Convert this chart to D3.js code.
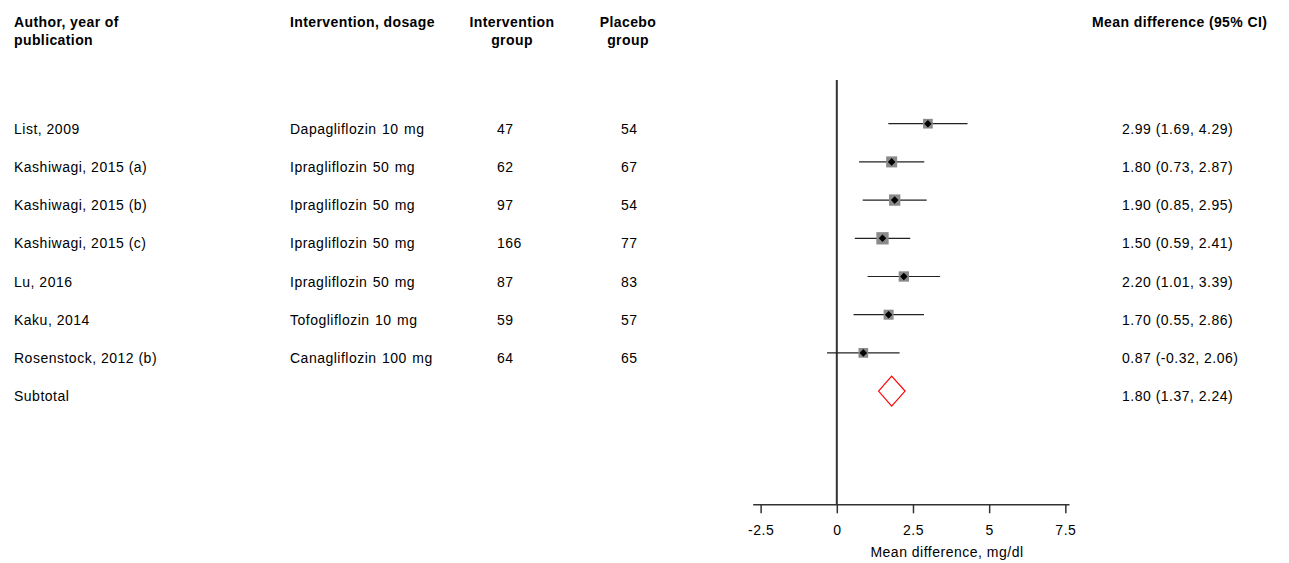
<!DOCTYPE html>
<html>
<head>
<meta charset="utf-8">
<script src="https://cdn.jsdelivr.net/npm/d3@7"></script>
<style>
  body { margin: 0; background: #fff; }
  text { font-family: "Liberation Sans", Arial, sans-serif; font-size: 14px; letter-spacing: 0.5px; fill: #000; }
  .head { font-weight: bold; letter-spacing: 0.4px; }
</style>
</head>
<body>
<div class="chart"></div>
<script>
const studies = ["List, 2009", "Kashiwagi, 2015 (a)", "Kashiwagi, 2015 (b)", "Kashiwagi, 2015 (c)",
  "Lu, 2016", "Kaku, 2014", "Rosenstock, 2012 (b)"]
const drugs = ["Dapagliflozin 10 mg", "Ipragliflozin 50 mg", "Ipragliflozin 50 mg", "Ipragliflozin 50 mg",
  "Ipragliflozin 50 mg", "Tofogliflozin 10 mg", "Canagliflozin 100 mg"]
const nIntervention = [47, 62, 97, 166, 87, 59, 64]
const nPlacebo = [54, 67, 54, 77, 83, 57, 65]
const meanDiff = [2.99, 1.80, 1.90, 1.50, 2.20, 1.70, 0.87]
const ciLow = [1.69, 0.73, 0.85, 0.59, 1.01, 0.55, -0.32]
const ciHigh = [4.29, 2.87, 2.95, 2.41, 3.39, 2.86, 2.06]
const weights = [11.8, 15.2, 16.1, 19.0, 13.4, 12.6, 11.8]
const subtotal = {label: "Subtotal", mean: 1.80, low: 1.37, high: 2.24}
const xTicks = [-2.5, 0, 2.5, 5, 7.5]

const width = 1289
const height = 563

const svg = d3.select('.chart')
  .append('svg')
  .attr('width', width)
  .attr('height', height)

const fmt = d3.format('.2f')
const ciText = (m, l, h) => fmt(m) + ' (' + fmt(l).replace('−', '-') + ', ' + fmt(h) + ')'

const rows = studies.map((s, i) => ({
  study: s, drug: drugs[i], ni: nIntervention[i], np: nPlacebo[i],
  mean: meanDiff[i], low: ciLow[i], high: ciHigh[i], w: weights[i]
}))

const y = d3.scaleLinear().domain([0, 1]).range([123.7, 161.9])
const x = d3.scaleLinear().domain([-2.76, 7.62]).range([752.7, 1069])
const size = d3.scaleSqrt().domain([0, d3.max(weights)]).range([0, 12.3])

// headers
const headers = [
  {x: 14, anchor: 'start', lines: ['Author, year of', 'publication']},
  {x: 290, anchor: 'start', lines: ['Intervention, dosage']},
  {x: 512, anchor: 'middle', lines: ['Intervention', 'group']},
  {x: 628, anchor: 'middle', lines: ['Placebo', 'group']},
  {x: 1092, anchor: 'start', lines: ['Mean difference (95% CI)']}
]
headers.forEach(h => {
  const t = svg.append('text').attr('class', 'head')
    .attr('text-anchor', h.anchor)
  h.lines.forEach((l, i) => {
    t.append('tspan').attr('x', h.x).attr('y', 26.5 + i * 18.5).text(l)
  })
})

// row texts
const rowG = svg.selectAll('g.row')
  .data(rows)
  .enter().append('g')
  .attr('class', 'row')
  .attr('transform', (d, i) => 'translate(0,' + (y(i) + 10) + ')')

rowG.append('text').attr('x', 14).text(d => d.study)
rowG.append('text').attr('x', 290).style('word-spacing', '1px').text(d => d.drug)
rowG.append('text').attr('x', 497).text(d => d.ni)
rowG.append('text').attr('x', 621).text(d => d.np)
rowG.append('text').attr('x', 1122).text(d => ciText(d.mean, d.low, d.high))

const subY = y(rows.length)
svg.append('text').attr('x', 14).attr('y', subY + 10).text(subtotal.label)
svg.append('text').attr('x', 1122).attr('y', subY + 10)
  .text(ciText(subtotal.mean, subtotal.low, subtotal.high))

// axis
const axisY = 504.3
const axis = svg.append('g')
  .attr('transform', 'translate(0,' + axisY + ')')
  .call(d3.axisBottom(x).tickValues(xTicks).tickSize(9).tickSizeOuter(0).tickPadding(12)
    .tickFormat(d => String(d)))
axis.select('.domain').attr('stroke', '#333').attr('stroke-width', 1.5)
axis.selectAll('.tick line').attr('stroke', '#333').attr('stroke-width', 1.5)
axis.selectAll('.tick text').style('font-size', '14px').attr('fill', '#000')
  .attr('font-family', null)

svg.append('text')
  .attr('x', 947).attr('y', 556.5)
  .attr('text-anchor', 'middle')
  .text('Mean difference, mg/dl')

// null line
svg.append('line')
  .attr('x1', x(0)).attr('x2', x(0))
  .attr('y1', 80).attr('y2', axisY)
  .attr('stroke', '#333').attr('stroke-width', 2)

// CIs and markers
const marks = svg.selectAll('g.mark')
  .data(rows)
  .enter().append('g')
  .attr('class', 'mark')

marks.append('line')
  .attr('x1', d => x(d.low)).attr('x2', d => x(d.high))
  .attr('y1', (d, i) => y(i)).attr('y2', (d, i) => y(i))
  .attr('stroke', '#222').attr('stroke-width', 1.2)

marks.append('rect')
  .attr('x', d => x(d.mean) - size(d.w) / 2)
  .attr('y', (d, i) => y(i) - size(d.w) / 2)
  .attr('width', d => size(d.w))
  .attr('height', d => size(d.w))
  .attr('fill', '#8a8a8a')

marks.append('path')
  .attr('d', (d, i) => {
    const cx = x(d.mean), cy = y(i), r = 3.8
    return `M${cx},${cy - r}L${cx + r},${cy}L${cx},${cy + r}L${cx - r},${cy}Z`
  })
  .attr('fill', '#000')

// subtotal diamond
const dh = 15
svg.append('path')
  .attr('d', `M${x(subtotal.low)},${subY}L${x(subtotal.mean)},${subY - dh}L${x(subtotal.high)},${subY}L${x(subtotal.mean)},${subY + dh}Z`)
  .attr('fill', 'none')
  .attr('stroke', '#ff0000')
  .attr('stroke-width', 1.2)
</script>
</body>
</html>
